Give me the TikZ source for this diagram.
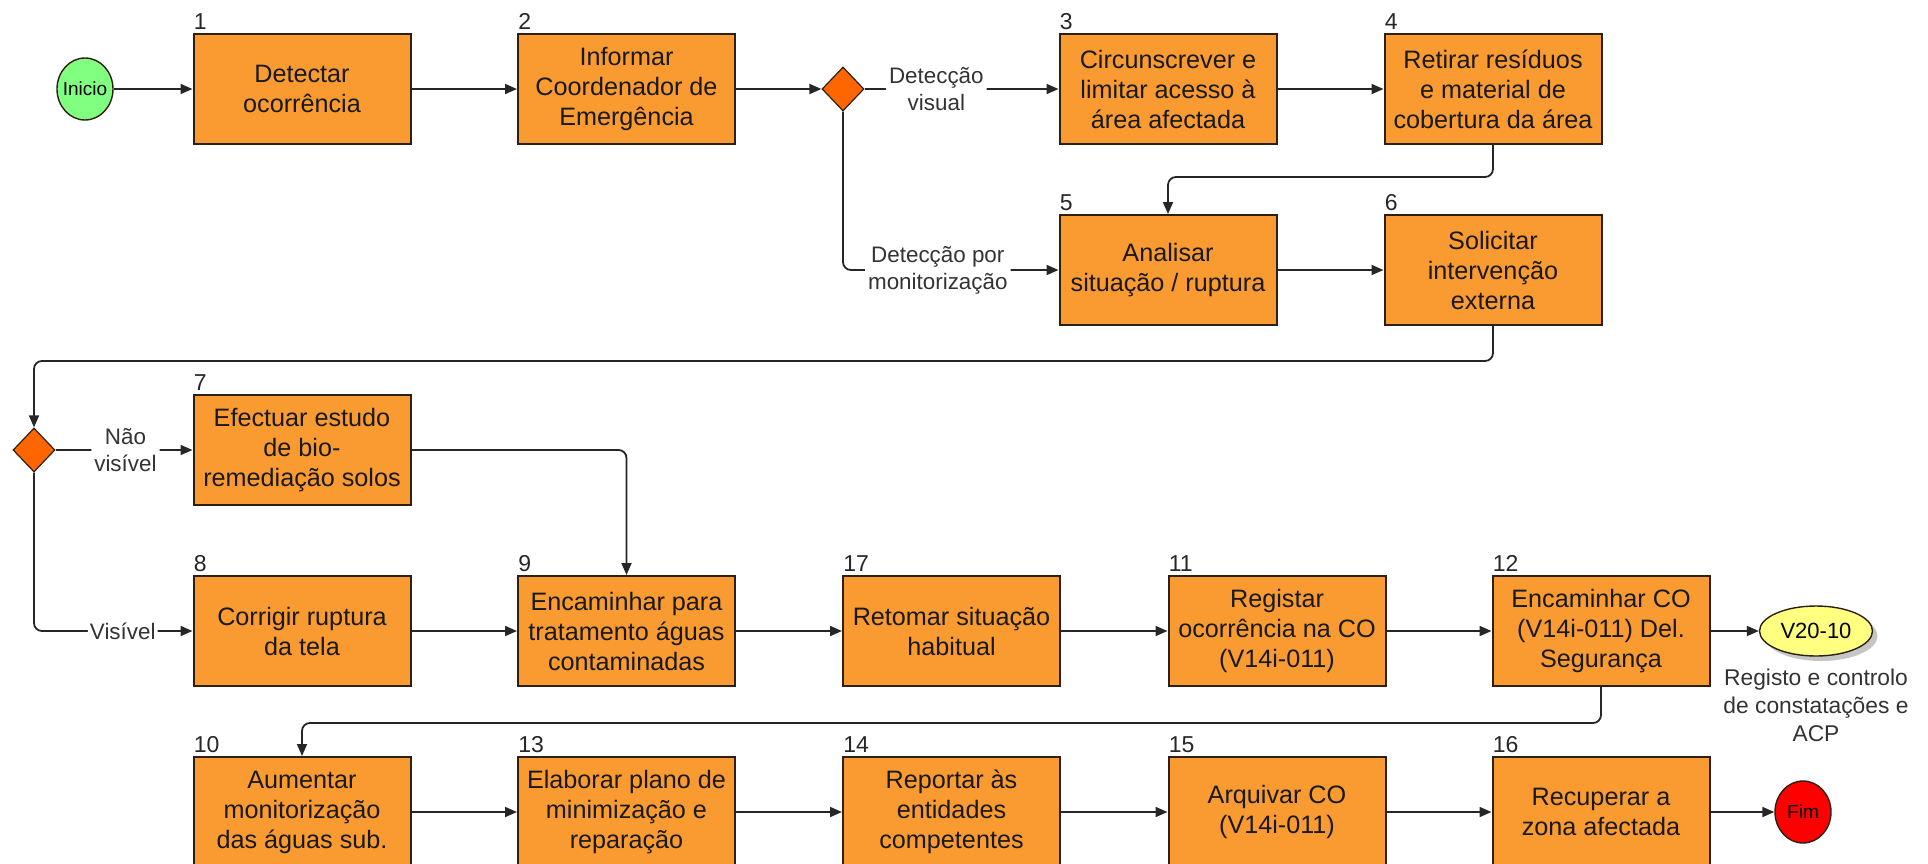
\documentclass[tikz,border=0pt]{standalone}
\usepackage{fontspec}
\setmainfont{Liberation Sans}
\usetikzlibrary{arrows.meta,shapes.geometric,shadows}

\definecolor{boxfill}{RGB}{250,155,50}
\definecolor{boxline}{RGB}{45,32,18}
\definecolor{gatefill}{RGB}{255,102,0}
\definecolor{startfill}{RGB}{128,255,128}
\definecolor{endfill}{RGB}{255,0,0}
\definecolor{docfill}{RGB}{255,255,128}

\tikzset{
  task/.style={draw=boxline, line width=1pt, fill=boxfill,
    minimum width=108.5pt, minimum height=55pt, inner sep=1pt,
    align=center, text=black!90, font=\fontsize{12.6}{15}\selectfont},
  tasknum/.style={anchor=base west, inner sep=0pt, text=black!85,
    font=\fontsize{11.5}{13}\selectfont},
  gate/.style={diamond, draw=boxline, line width=0.6pt, fill=gatefill,
    minimum width=21pt, minimum height=22pt, inner sep=0pt},
  event/.style={ellipse, draw=boxline, line width=0.7pt,
    minimum width=28pt, minimum height=31pt, inner sep=0pt,
    font=\fontsize{9.5}{11}\selectfont},
  docref/.style={ellipse, draw=boxline, line width=0.7pt, fill=docfill,
    minimum width=56.5pt, minimum height=25pt, inner sep=0pt,
    font=\fontsize{11}{13}\selectfont,
    drop shadow={shadow xshift=2.5pt, shadow yshift=-2.5pt, fill=black!45}},
  notetext/.style={align=center, inner sep=0pt, text=black!80,
    font=\fontsize{11.4}{14}\selectfont},
  elab/.style={fill=white, inner sep=1.5pt, align=center, text=black!80,
    font=\fontsize{11.2}{13.5}\selectfont},
  arr/.style={-{Triangle[length=6pt,width=5pt]}, line width=0.9pt,
    draw=black!85, rounded corners=4pt},
}

\begin{document}
\begin{tikzpicture}[x=0.5pt, y=-0.5pt]
  \useasboundingbox (0,0) rectangle (1928,863);
  \clip (0,0) rectangle (1928,863);

  % first row
  \node[event, fill=startfill] (ini) at (85,89) {\makebox[0pt]{Inicio}};
  \node[task] (b1) at (302,89) {Detectar\\ocorrência};
  \node[task] (b2) at (626.5,89) {Informar\\Coordenador de\\Emergência};
  \node[gate] (d1) at (843,89) {};
  \node[task] (b3) at (1168,89) {Circunscrever e\\limitar acesso à\\área afectada};
  \node[task] (b4) at (1493,89) {Retirar resíduos\\e material de\\cobertura da área};

  % second row
  \node[task] (b5) at (1168,270) {Analisar\\situação / ruptura};
  \node[task] (b6) at (1493,270) {Solicitar\\intervenção\\externa};

  % third row
  \node[gate] (d2) at (34,450) {};
  \node[task] (b7) at (302,450) {Efectuar estudo\\de bio-\\remediação solos};

  % fourth row
  \node[task] (b8) at (302,631) {Corrigir ruptura\\da tela};
  \node[task] (b9) at (626.5,631) {Encaminhar para\\tratamento águas\\contaminadas};
  \node[task] (b17) at (951.5,631) {Retomar situação\\habitual};
  \node[task] (b11) at (1277,631) {Registar\\ocorrência na CO\\(V14i-011)};
  \node[task] (b12) at (1601,631) {Encaminhar CO\\(V14i-011) Del.\\Segurança};
  \node[docref] (v20) at (1816,631) {V20-10};
  \node[notetext, anchor=north] (v20note) at ([yshift=-6pt]v20.south)
    {Registo e controlo\\de constatações e\\ACP};

  % fifth row
  \node[task] (b10) at (302,812) {Aumentar\\monitorização\\das águas sub.};
  \node[task] (b13) at (626.5,812) {Elaborar plano de\\minimização e\\reparação};
  \node[task] (b14) at (951.5,812) {Reportar às\\entidades\\competentes};
  \node[task] (b15) at (1277,812) {Arquivar CO\\(V14i-011)};
  \node[task] (b16) at (1601,812) {Recuperar a\\zona afectada};
  \node[event, fill=endfill] (fim) at (1803,812) {\makebox[0pt]{Fim}};

  % step numbers
  \foreach \b/\n in {b1/1, b2/2, b3/3, b4/4, b5/5, b6/6, b7/7, b8/8, b9/9,
                     b17/17, b11/11, b12/12, b10/10, b13/13, b14/14, b15/15, b16/16}
    \node[tasknum] (n\n) at ([xshift=0.5pt, yshift=2pt]\b.north west) {\n};

  % connectors
  \draw[arr] (ini) -- (b1);
  \draw[arr] (b1) -- (b2);
  \draw[arr] (b2) -- (d1);
  \draw[arr] (d1) -- node[elab, pos=0.37] {Detecção\\visual} (b3);
  \draw[arr] (d1.south) |- node[elab, pos=0.72] {Detecção por\\monitorização} (b5.west);
  \draw[arr] (b3) -- (b4);
  \draw[arr] (b4.south) -- ++(0,32) -| (b5.north);
  \draw[arr] (b5) -- (b6);
  \draw[arr] (b6.south) -- ++(0,35) -| (d2.north);
  \draw[arr] (d2) -- node[elab, pos=0.51] {Não\\visível} (b7);
  \draw[arr] (d2.south) |- node[elab, pos=0.78, inner sep=1pt] {Visível} (b8.west);
  \draw[arr] (b7.east) -| (b9.north);
  \draw[arr] (b8) -- (b9);
  \draw[arr] (b9) -- (b17);
  \draw[arr] (b17) -- (b11);
  \draw[arr] (b11) -- (b12);
  \draw[arr] (b12) -- (v20);
  \draw[arr] (b12.south) -- ++(0,36) -| (b10.north);
  \draw[arr] (b10) -- (b13);
  \draw[arr] (b13) -- (b14);
  \draw[arr] (b14) -- (b15);
  \draw[arr] (b15) -- (b16);
  \draw[arr] (b16) -- (fim);
\end{tikzpicture}
\end{document}
